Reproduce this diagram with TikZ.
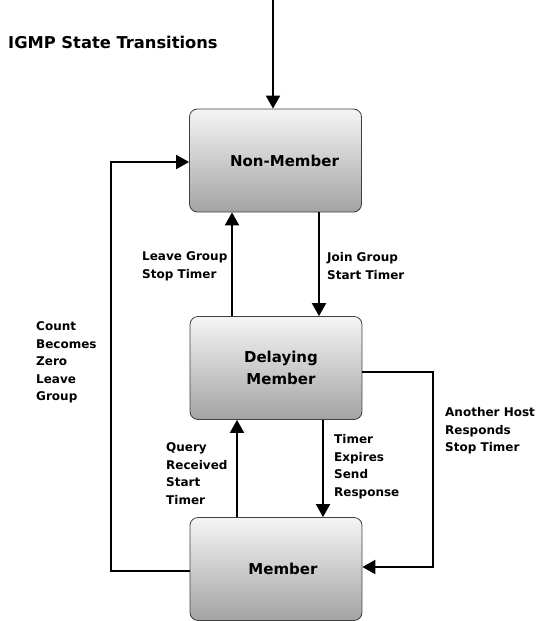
\documentclass[tikz,border=0pt]{standalone}
\usepackage{fontspec}
\setmainfont{DejaVu Sans}
\usetikzlibrary{arrows.meta}
\begin{document}
\begin{tikzpicture}[x=1pt,y=-1pt,
  state/.style={draw=black!75, line width=0.8pt, rounded corners=8pt,
    top color=black!4, bottom color=black!36,
    minimum width=172pt, minimum height=103pt, inner sep=0pt,
    align=center, font=\bfseries\fontsize{15}{22}\selectfont},
  lbl/.style={anchor=north west, inner sep=0pt, align=left,
    font=\bfseries\fontsize{12}{17.5}\selectfont},
  arr/.style={line width=2pt, -{Triangle[length=13pt,width=14pt]}},
  wire/.style={line width=2pt}]
\useasboundingbox (0,0) rectangle (540,621);

% title
\node[anchor=north west, inner sep=0pt, font=\bfseries\fontsize{16.3}{18}\selectfont]
  (title) at (8,36) {IGMP State Transitions};

% states
\node[state] (nm) at (275.5,160.5) {\hspace*{18pt}Non-Member};
\node[state] (dm) at (276,368) {\hspace*{10pt}Delaying\\\hspace*{10pt}Member};
\node[state] (mb) at (276,569) {\hspace*{14pt}Member};

% helper coordinates for vertical connectors and loops
\coordinate (entry) at (273,0);
\coordinate (lvx) at (232,0);
\coordinate (jnx) at (319,0);
\coordinate (qrx) at (237,0);
\coordinate (tex) at (323,0);
\coordinate (lc) at (111,0);
\coordinate (rc) at (433,0);
\coordinate (lout) at ([yshift=-2pt]mb.west);
\coordinate (lin) at ([yshift=-1.5pt]nm.west);
\coordinate (rout) at ([yshift=-4pt]dm.east);
\coordinate (rin) at ([yshift=2pt]mb.east);

% connectors
\draw[arr] (entry) -- (entry |- nm.north);
\draw[arr] (dm.north -| lvx) -- (nm.south -| lvx);
\draw[arr] (nm.south -| jnx) -- (dm.north -| jnx);
\draw[arr] (mb.north -| qrx) -- (dm.south -| qrx);
\draw[arr] (dm.south -| tex) -- (mb.north -| tex);
\draw[arr] (lout) -- (lout -| lc) -- (lin -| lc) -- (lin);
\draw[arr] (rout) -- (rout -| rc) -- (rin -| rc) -- (rin);

% transition labels
\node[lbl] (lvl) at (142,251.5) {Leave Group\\Stop Timer};
\node[lbl] (jnl) at (327,252.5) {Join Group\\Start Timer};
\node[lbl] (cbl) at (36,321.5) {Count\\Becomes\\Zero\\Leave\\Group};
\node[lbl] (qrl) at (166,442.5) {Query\\Received\\Start\\Timer};
\node[lbl] (tel) at (334,434.5) {Timer\\Expires\\Send\\Response};
\node[lbl] (ahl) at (445,407.5) {Another Host\\Responds\\Stop Timer};
\end{tikzpicture}
\end{document}
